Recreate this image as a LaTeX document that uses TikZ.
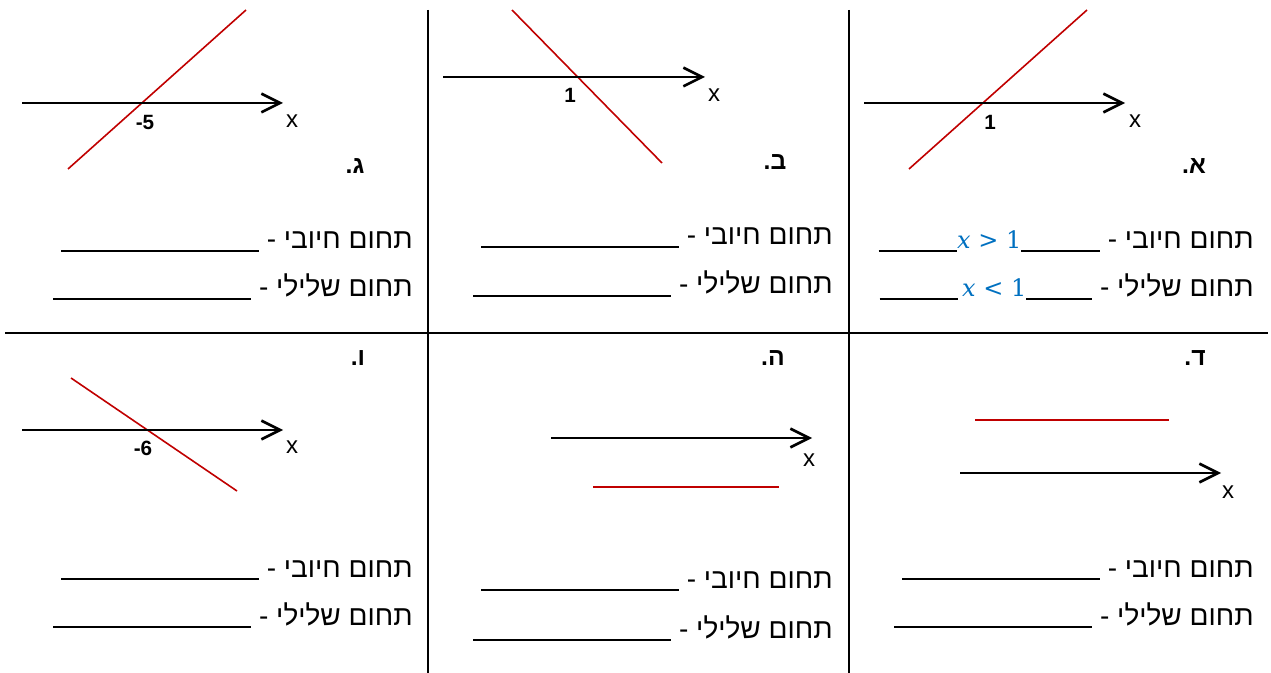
\documentclass[tikz,border=0pt]{standalone}
\usepackage{fontspec}
\setmainfont{Liberation Sans}
\newfontfamily\heb[Script=Hebrew]{Liberation Sans}
\newfontfamily\mathserif{DejaVu Serif}
\usetikzlibrary{arrows.meta}
\TeXXeTstate=1
\definecolor{redl}{RGB}{192,0,0}
\definecolor{ansblue}{RGB}{0,112,192}
\newcommand\blankline[1]{\rule[-2.4pt]{#1}{1.7pt}}
\newcommand\pos{{\heb\beginR תחום חיובי\endR}}
\newcommand\negt{{\heb\beginR תחום שלילי\endR}}
\newcommand\ineq[1]{{\color{ansblue}\mathserif\fontsize{18}{22}\selectfont\itshape x\upshape\ #1\ 1}}
\begin{document}
\begin{tikzpicture}[x=0.75pt,y=-0.75pt,
 gridline/.style={line width=1.5pt},
 axis/.style={line width=2pt, -{Straight Barb[length=14pt,width=14pt,line width=2pt]}},
 graph/.style={redl, line width=1.2pt},
 lbl/.style={font=\bfseries\fontsize{15.5}{18}\selectfont, inner sep=0pt},
 xl/.style={font=\fontsize{18}{21}\selectfont, inner sep=0pt},
 part/.style={font=\bfseries\fontsize{18.5}{22}\selectfont, inner sep=0pt},
 ans/.style={font=\fontsize{21}{25}\selectfont, inner sep=0pt, anchor=base east},
]
\useasboundingbox (0,0) rectangle (1271,673);
% grid
\coordinate (v1t) at (428,10); \coordinate (v1b) at (428,673);
\coordinate (v2t) at (849,10); \coordinate (v2b) at (849,673);
\coordinate (hl) at (5,333); \coordinate (hr) at (1268,333);
\draw[gridline] (v1t) -- (v1b);
\draw[gridline] (v2t) -- (v2b);
\draw[gridline] (hl) -- (hr);

% panel gimel
\coordinate (gA1) at (22,103); \coordinate (gA2) at (283,103);
\coordinate (gR1) at (68,169); \coordinate (gR2) at (246,10);
\draw[graph] (gR1) -- (gR2);
\draw[axis] (gA1) -- (gA2);
\node[lbl] (g5) at (145,122) {-5};
\node[xl] (gx) at (292,121) {x};
\node[part] (gP) at (355,166) {\heb\beginR ג.\endR};
\node[ans] (g1) at (413,249) {\blankline{148.5pt}\ -\ \pos};
\node[ans] (g2) at (413,297) {\blankline{148.5pt}\ -\ \negt};

% panel bet
\coordinate (bA1) at (443,77); \coordinate (bA2) at (705,77);
\coordinate (bR1) at (512,10); \coordinate (bR2) at (662,163);
\draw[graph] (bR1) -- (bR2);
\draw[axis] (bA1) -- (bA2);
\node[lbl] (b1n) at (570,95) {1};
\node[xl] (bx) at (714,95) {x};
\node[part] (bP) at (775,162) {\heb\beginR ב.\endR};
\node[ans] (b1) at (833,245) {\blankline{148.5pt}\ -\ \pos};
\node[ans] (b2) at (833,294) {\blankline{148.5pt}\ -\ \negt};

% panel alef
\coordinate (aA1) at (864,103); \coordinate (aA2) at (1125,103);
\coordinate (aR1) at (909,169); \coordinate (aR2) at (1087,10);
\draw[graph] (aR1) -- (aR2);
\draw[axis] (aA1) -- (aA2);
\node[lbl] (a1n) at (990,122) {1};
\node[xl] (ax) at (1135,121) {x};
\node[part] (aP) at (1194,166) {\heb\beginR א.\endR};
\node[ans] (a1) at (1254,249) {\blankline{59pt}\ineq{>}\blankline{59pt}\ -\ \pos};
\node[ans] (a2) at (1254,297) {\blankline{59pt}\hspace{3pt}\ineq{<}\blankline{49.5pt}\ -\ \negt};

% panel vav
\coordinate (vA1) at (22,430); \coordinate (vA2) at (283,430);
\coordinate (vR1) at (71,378); \coordinate (vR2) at (237,491);
\draw[graph] (vR1) -- (vR2);
\draw[axis] (vA1) -- (vA2);
\node[lbl] (v6) at (143,448) {-6};
\node[xl] (vx) at (292,447) {x};
\node[part] (vP) at (358,358) {\heb\beginR ו.\endR};
\node[ans] (v1) at (413,577) {\blankline{148.5pt}\ -\ \pos};
\node[ans] (v2) at (413,625) {\blankline{148.5pt}\ -\ \negt};

% panel he
\coordinate (hA1) at (551,438); \coordinate (hA2) at (812,438);
\coordinate (hR1) at (593,487); \coordinate (hR2) at (779,487);
\draw[axis] (hA1) -- (hA2);
\draw[graph] (hR1) -- (hR2);
\node[xl] (hx) at (809,460) {x};
\node[part] (hP) at (773,358) {\heb\beginR ה.\endR};
\node[ans] (h1) at (833,588) {\blankline{148.5pt}\ -\ \pos};
\node[ans] (h2) at (833,638) {\blankline{148.5pt}\ -\ \negt};

% panel dalet
\coordinate (dA1) at (960,473); \coordinate (dA2) at (1221,473);
\coordinate (dR1) at (975,420); \coordinate (dR2) at (1169,420);
\draw[graph] (dR1) -- (dR2);
\draw[axis] (dA1) -- (dA2);
\node[xl] (dx) at (1228,492) {x};
\node[part] (dP) at (1195,358) {\heb\beginR ד.\endR};
\node[ans] (d1) at (1254,577) {\blankline{148.5pt}\ -\ \pos};
\node[ans] (d2) at (1254,625) {\blankline{148.5pt}\ -\ \negt};
\end{tikzpicture}
\end{document}
